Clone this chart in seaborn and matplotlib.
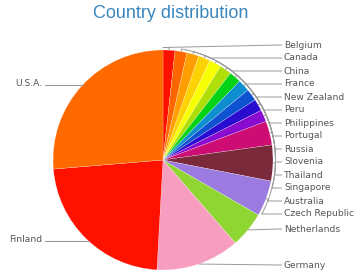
import numpy as np
import matplotlib
matplotlib.use("Agg")
import matplotlib.pyplot as plt
import seaborn as sns

countries = ["Belgium", "Canada", "China", "France", "New Zealand", "Peru",
             "Philippines", "Portugal", "Russia", "Slovenia", "Thailand",
             "Singapore", "Australia", "Czech Republic", "Netherlands",
             "Germany", "Finland", "U.S.A."]
values = [1, 1, 1, 1, 1, 1, 1, 1, 1, 1, 1, 2, 3, 3, 3, 7, 13, 15]
slice_colors = ["#FF0F00", "#FF6600", "#FF9E01", "#FCD202", "#F8FF01", "#B0DE09",
                "#04D215", "#0D8ECF", "#0D52D1", "#2A0CD0", "#8A0CCF", "#CD0D74",
                "#7B2A3B", "#9B7BE0", "#8FD632", "#F79DC0", "#FF1100", "#FF6A00"]
# label vertical positions (pixels from top)
label_y = [45, 58, 71, 84, 97, 110, 123, 136, 149, 162, 175, 188, 201, 214,
           229, 265, 239, 83]
label_side = ["R"] * 16 + ["L", "L"]

W, H = 364, 277
sns.set_theme(style="white")
plt.rcParams['font.family'] = ['DejaVu Sans']

fig = plt.figure(figsize=(W / 100, H / 100), dpi=100)
ax = fig.add_axes([0, 0, 1, 1])

cx, cy, r = 163, 160, 110
palette = sns.color_palette(slice_colors)
wedges, _ = ax.pie(values, colors=palette, startangle=90, counterclock=False,
                   center=(cx, H - cy), radius=r,
                   wedgeprops=dict(edgecolor="white", linewidth=0.15))
ax.set_xlim(0, W)
ax.set_ylim(0, H)
ax.set_aspect("auto")
ax.axis("off")

total = sum(values)
cum = np.cumsum([0] + values)
line_col = "#9a9a9a"
for i, name in enumerate(countries):
    th = np.deg2rad((cum[i] + cum[i + 1]) / 2 / total * 360)
    ex, ey = cx + r * np.sin(th), cy - r * np.cos(th)
    ly = label_y[i]
    if label_side[i] == "R":
        bx = 279
        xs = [ex, bx]
        ys = [ey, ly]
        t = np.linspace(0.05, 0.95, 40)
        px = ex + (bx - ex) * t
        py = ey + (ly - ey) * t
        if np.any(np.hypot(px - cx, py - cy) < r + 1):
            rr = r + 2.5
            c = np.clip((cy - ly) / rr, -1, 1)
            phi = np.arccos(c)
            angs = np.linspace(th, phi, 20)
            xs = [ex] + list(cx + rr * np.sin(angs)) + [bx]
            ys = [ey] + list(cy - rr * np.cos(angs)) + [ly]
        xs = xs + [282]
        ys = ys + [ly]
        ax.plot(xs, [H - v for v in ys], color=line_col, lw=0.7,
                solid_capstyle="butt", zorder=5)
        ax.text(284, H - ly, name, ha="left", va="center", fontsize=6.6,
                color="#555555")
    else:
        yy = ly + 2
        x_edge = cx - np.sqrt(r ** 2 - (yy - cy) ** 2)
        ax.plot([45, x_edge], [H - yy, H - yy], color=line_col, lw=0.8,
                zorder=5)
        ax.text(42, H - ly, name, ha="right", va="center", fontsize=6.6,
                color="#555555")

fig.text(170.5 / W, 1 - 13 / H, "Country distribution", ha="center",
         va="center", fontsize=13, color="#3a87be", family="Liberation Sans")

fig.savefig("out.png", dpi=100)
